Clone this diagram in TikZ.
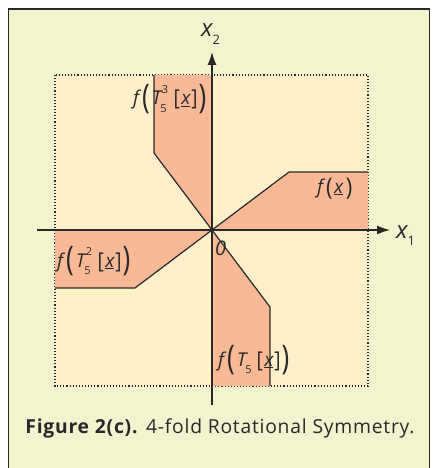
\documentclass[tikz,border=0pt]{standalone}
\usepackage{fontspec}
\setmainfont{Open Sans}
\usetikzlibrary{arrows.meta}
\definecolor{outerbg}{RGB}{242,244,206}
\definecolor{innerbg}{RGB}{254,240,200}
\definecolor{petal}{RGB}{249,184,150}
\definecolor{ink}{RGB}{40,40,40}
\newcommand{\bigparen}[1]{\raisebox{-3.5pt}{\fontsize{26}{26}\selectfont\upshape\scalebox{1}[1.3]{#1}}}
\newcommand{\midparen}[1]{\raisebox{-2pt}{\fontsize{22}{22}\selectfont\upshape\scalebox{1}[1.1]{#1}}}
\newcommand{\midbrack}[1]{\raisebox{-1pt}{\upshape\scalebox{1}[1.15]{#1}}}
\newcommand{\smallfig}{\fontsize{11}{11}\selectfont\upshape}
\newcommand{\subsup}[2]{\makebox[0pt][l]{\hspace{0.5pt}\raisebox{0.62em}{\smallfig #2}}\raisebox{-0.38em}{\hspace{-1pt}\smallfig #1}}
\newcommand{\ux}{\underline{\itshape x}}
\newcommand{\tlabel}[2]{{\itshape f}\hspace{3pt}\bigparen{(}\hspace{2pt}{\itshape T}\subsup{5}{#1}\hspace{#2}\midbrack{[}\hspace{1.5pt}\ux\hspace{1pt}\midbrack{]}\hspace{1pt}\bigparen{)}}
\begin{document}
\begin{tikzpicture}[x=1pt,y=-1pt,
  lbl/.style={inner sep=0pt, text=ink, font=\fontsize{19}{21}\selectfont},
  edge/.style={draw=ink, line width=1.2pt, line join=miter},
  axis/.style={draw=ink, line width=1.3pt, -{Latex[length=13pt,width=9pt]}},
  petalfill/.style={fill=petal}]
\useasboundingbox (0,0) rectangle (432,468);
\fill[white] (0,0) rectangle (432,468);
\draw[ink, line width=1.4pt, fill=outerbg] (8.5,9) rectangle (429.5,490);
\fill[innerbg] (55,75) rectangle (368,386);
\draw[ink, dotted, line width=1.1pt] (55,75) rectangle (368,386);
\coordinate (O) at (212,230);
% quadrant regions
\fill[petalfill] (O) -- (289,172) -- (368,172) -- (368,230) -- cycle;
\fill[petalfill] (O) -- (154,153) -- (154,75) -- (212,75) -- cycle;
\fill[petalfill] (O) -- (135,288) -- (55,288) -- (55,230) -- cycle;
\fill[petalfill] (O) -- (270,307) -- (270,386) -- (212,386) -- cycle;
\draw[edge] (O) -- (289,172) -- (368,172);
\draw[edge] (O) -- (154,153) -- (154,75);
\draw[edge] (O) -- (135,288) -- (55,288);
\draw[edge] (O) -- (270,307) -- (270,386);
% axes
\coordinate (xs) at (37,230);
\coordinate (xe) at (390,230);
\coordinate (ys) at (212,405);
\coordinate (ye) at (212,52);
\draw[axis] (xs) -- (xe);
\draw[axis] (ys) -- (ye);
\node[lbl, anchor=base west] (x1) at (396,238) {\fontsize{24}{24}\selectfont\itshape x\raisebox{-0.3em}{\fontsize{13}{13}\selectfont\upshape 1}};
\node[lbl, anchor=base west] (x2) at (201,37) {\fontsize{24}{24}\selectfont\itshape x\raisebox{-0.3em}{\fontsize{13}{13}\selectfont\upshape 2}};
\node[lbl, anchor=base west] (zero) at (215,255) {\fontsize{20}{20}\selectfont\itshape 0};
% labels
\node[lbl, anchor=base west] (fx) at (317,193) {{\itshape f}\hspace{3pt}\midparen{(}\hspace{1.5pt}\ux\hspace{2.5pt}\midparen{)}};
\node[lbl, anchor=base west] (f3) at (133,105) {\tlabel{3}{7pt}};
\node[lbl, anchor=base west] (f2) at (57,267) {\tlabel{2}{7pt}};
\node[lbl, anchor=base west] (f1) at (218,366) {\tlabel{}{5pt}};
\node[lbl, anchor=center, font=\fontsize{19.3}{22}\selectfont\addfontfeature{LetterSpace=4}] (cap) at (220,428) {\textbf{Figure 2(c).} 4-fold Rotational Symmetry.};
\end{tikzpicture}
\end{document}
